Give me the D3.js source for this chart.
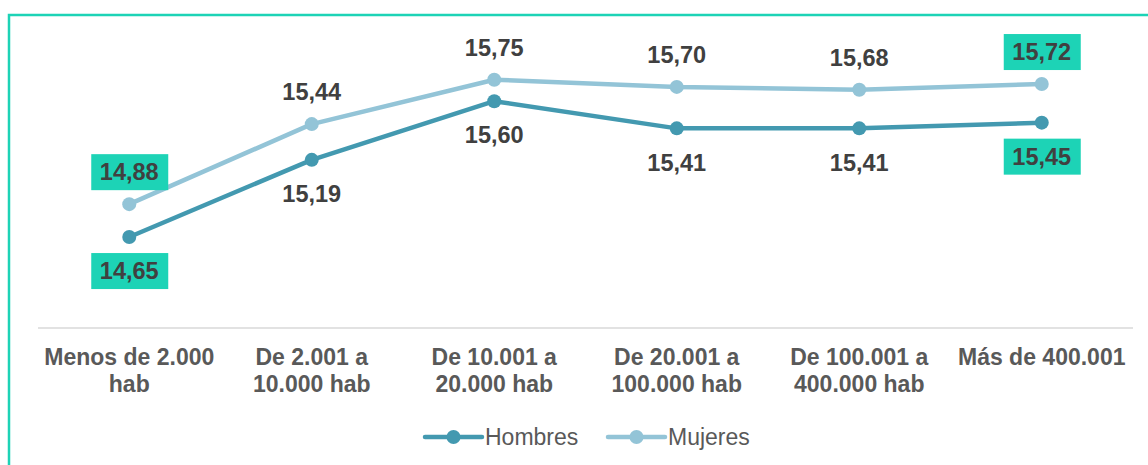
<!DOCTYPE html>
<html lang="es">
<head>
<meta charset="utf-8" />
<title>Hombres y Mujeres por tamaño de municipio</title>
<script src="https://d3js.org/d3.v7.min.js"></script>
<style>
  body { margin: 0; background: #fff; }
  svg { display: block; font-family: "Liberation Sans", Arial, sans-serif; }
</style>
</head>
<body>
<script>
// categories (two text lines each)
const categories = [
  ["Menos de 2.000", "hab"],
  ["De 2.001 a", "10.000 hab"],
  ["De 10.001 a", "20.000 hab"],
  ["De 20.001 a", "100.000 hab"],
  ["De 100.001 a", "400.000 hab"],
  ["Más de 400.001"]
];
const hombres = [14.65, 15.19, 15.60, 15.41, 15.41, 15.45];
const mujeres = [14.88, 15.44, 15.75, 15.70, 15.68, 15.72];
const seriesNames = ["Hombres", "Mujeres"];
const highlighted = [0, 5]; // points with boxed labels

const W = 1148, H = 465;
const colors = { Hombres: "#4399B0", Mujeres: "#93C4D7" };
const accent = "#1DD3B6";

const svg = d3.select("body").append("svg")
  .attr("width", W).attr("height", H);

// outer frame
svg.append("rect")
  .attr("x", 9).attr("y", 15)
  .attr("width", W + 20).attr("height", H + 20)
  .attr("fill", "none").attr("stroke", accent).attr("stroke-width", 2.5);

const x = d3.scaleBand()
  .domain(d3.range(categories.length))
  .range([38, 1133]);
const y = d3.scaleLinear().domain([14, 16]).range([330, 44]);

// category axis line
svg.append("line")
  .attr("x1", x.range()[0]).attr("x2", x.range()[1])
  .attr("y1", 328).attr("y2", 328)
  .attr("stroke", "#D9D9D9").attr("stroke-width", 1.5);

// category labels
const cat = svg.append("g")
  .selectAll("text").data(categories).join("text")
  .attr("x", (d, i) => x(i) + x.bandwidth() / 2)
  .attr("y", 365)
  .attr("text-anchor", "middle")
  .attr("font-size", 23).attr("font-weight", "bold")
  .attr("fill", "#595959");
cat.selectAll("tspan").data(d => d).join("tspan")
  .attr("x", function () { return d3.select(this.parentNode).attr("x"); })
  .attr("dy", (d, i) => i === 0 ? 0 : 27)
  .text(d => d);

const cx = i => x(i) + x.bandwidth() / 2;
const line = d3.line().x((d, i) => cx(i)).y(d => y(d));
const fmt = v => d3.format(".2f")(v).replace(".", ",");

const series = [
  { name: "Mujeres", values: mujeres, dy: -32 },
  { name: "Hombres", values: hombres, dy: 34 }
];

series.forEach(s => {
  svg.append("path")
    .datum(s.values)
    .attr("d", line)
    .attr("fill", "none")
    .attr("stroke", colors[s.name])
    .attr("stroke-width", 4.5)
    .attr("stroke-linejoin", "round");
  svg.append("g").selectAll("circle").data(s.values).join("circle")
    .attr("cx", (d, i) => cx(i)).attr("cy", d => y(d))
    .attr("r", 7).attr("fill", colors[s.name]);
});

// data labels
series.forEach(s => {
  const g = svg.append("g");
  s.values.forEach((v, i) => {
    const lx = cx(i), ly = y(v) + s.dy;
    if (highlighted.includes(i)) {
      g.append("rect")
        .attr("x", lx - 38).attr("y", ly - 18)
        .attr("width", 77).attr("height", 36)
        .attr("fill", accent);
    }
    g.append("text")
      .attr("x", lx).attr("y", ly)
      .attr("dy", "0.35em")
      .attr("text-anchor", "middle")
      .attr("font-size", 23.5).attr("font-weight", "bold")
      .attr("fill", "#404040")
      .text(fmt(v));
  });
});

// legend
const legend = svg.append("g");
const legendX = [425, 608];
seriesNames.forEach((n, i) => {
  const lx = legendX[i], ly = 437;
  legend.append("line")
    .attr("x1", lx).attr("x2", lx + 57)
    .attr("y1", ly).attr("y2", ly)
    .attr("stroke", colors[n]).attr("stroke-width", 4.5)
    .attr("stroke-linecap", "round");
  legend.append("circle")
    .attr("cx", lx + 28.5).attr("cy", ly).attr("r", 7)
    .attr("fill", colors[n]);
  legend.append("text")
    .attr("x", lx + 60).attr("y", ly).attr("dy", "0.35em")
    .attr("font-size", 23).attr("fill", "#595959")
    .text(n);
});
</script>
</body>
</html>
